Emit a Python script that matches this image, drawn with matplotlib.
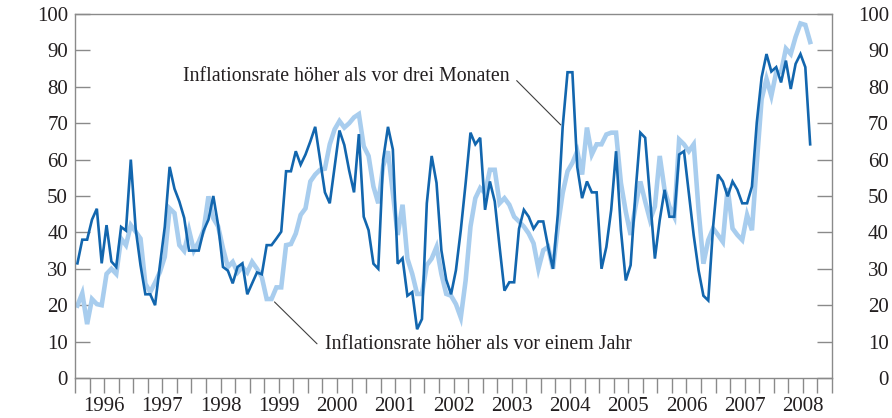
import numpy as np
import pandas as pd
import matplotlib
matplotlib.use('Agg')
import matplotlib.pyplot as plt
from matplotlib.ticker import FixedLocator, NullFormatter

plt.rcParams['font.family'] = ['Liberation Serif', 'DejaVu Serif']

# monthly shares (%), Jan 1996 - Aug 2008
three_month = [
    31.5, 38, 38, 43.5, 46.5, 31.5, 42, 32, 30.5, 41.5, 40.5, 60,        # 1996
    41, 31, 23, 23, 20, 31, 41.5, 58, 52, 48.5, 44, 35,                  # 1997
    35, 35, 40.5, 43.5, 50, 42, 30.5, 29.5, 26, 30.5, 31.5, 23,          # 1998
    26, 29, 28.5, 36.5, 36.5, 38.3, 40.2, 56.8, 56.8, 62.3, 58.6, 61.4,  # 1999
    65, 69, 60, 51, 48, 58, 68, 64, 57, 51, 67, 44.3,                    # 2000
    40.6, 31.4, 30, 60, 69, 62.8, 31.4, 32.9, 22.6, 23.6, 13.4, 16.2,    # 2001
    48, 61, 53.6, 35.1, 27, 23, 29.6, 40.6, 53.5, 67.4, 64.2, 66,        # 2002
    46.2, 54, 48.5, 36, 24, 26.3, 26.3, 41, 46.2, 44.3, 41, 43,          # 2003
    43, 36, 30, 45, 69, 84, 84, 58, 49.4, 54, 51, 51,                    # 2004
    30, 36, 46.2, 62.3, 40.6, 26.8, 31, 50.8, 67.4, 66, 49.4, 32.8,      # 2005
    43.4, 51.7, 44.3, 44.3, 61.4, 62.3, 50.8, 39.2, 29.6, 22.6, 21.3, 41.6,  # 2006
    55.9, 54, 49.9, 54, 51.7, 48, 48, 52.6, 70.2, 82.6, 89, 84.2,        # 2007
    85.4, 81.2, 87.2, 79.4, 86.3, 89, 85.4, 64.2,                        # 2008
]
one_year = [
    19.9, 23.3, 14.8, 21.7, 20.3, 20, 28.6, 30, 28.6, 38.3, 36.5, 42,    # 1996
    40.2, 38.3, 25.9, 23.6, 26.2, 29.1, 33.3, 46.6, 45.3, 36.5, 34.9, 40.6,  # 1997
    35, 37.4, 40.6, 49.9, 43.9, 41.6, 35.6, 30.5, 31.9, 29, 30.5, 29,    # 1998
    31.9, 30, 27.7, 21.7, 21.7, 24.9, 24.9, 36.5, 36.8, 39.7, 44.8, 46.6,  # 1999
    54, 55.9, 57.2, 57.5, 64.2, 68.3, 70.6, 68.8, 70, 71.6, 72.5, 63.7,  # 2000
    61, 52.6, 48, 58.2, 62.3, 50.8, 39.3, 47.6, 32.8, 28.6, 23.1, 23.1,  # 2001
    31, 32.8, 36, 28.6, 23.1, 22.6, 20.3, 16.6, 26.8, 41.6, 49.4, 52.2,  # 2002
    50.8, 57.2, 57.2, 48, 49.4, 47.6, 44.3, 43, 41.6, 39.7, 37, 30,      # 2003
    35.1, 36, 30, 41.6, 50.8, 56.8, 59.1, 62.3, 55.9, 68.8, 61.4, 64.2,  # 2004
    64.2, 66.9, 67.4, 67.4, 53.6, 45.7, 39.3, 47.1, 54, 48.5, 43.4, 47.1,  # 2005
    61, 51.7, 47.1, 44.3, 65.5, 64.2, 62.3, 64.2, 46.2, 31.4, 37.9, 41.1,  # 2006
    39.3, 37.4, 52.2, 41.1, 39.3, 37.9, 44.8, 40.6, 59.1, 76.6, 82.2, 77.5,  # 2007
    84, 84, 90.5, 89, 93.7, 97.4, 97, 92.3,                              # 2008
]
years = list(range(1996, 2009))
y_ticks = [0, 10, 20, 30, 40, 50, 60, 70, 80, 90, 100]

label_3m = 'Inflationsrate höher als vor drei Monaten'
label_1y = 'Inflationsrate höher als vor einem Jahr'

dates = pd.date_range('1996-01-01', periods=len(three_month), freq='MS')
x = dates.year + (dates.month - 0.5) / 12.0

dark = '#1266ae'
light = '#a8cdee'
grey = '#8a8a8a'
txt = '#231f20'
fs = 14.3
tfs = 15

fig = plt.figure(figsize=(8.92, 4.18), dpi=100)
ax = fig.add_axes([75 / 892, 1 - 378 / 418, 757 / 892, 364 / 418])

ax.plot(x, one_year, color=light, lw=3.3, solid_joinstyle='miter', zorder=2)
ax.plot(x, three_month, color=dark, lw=1.9, solid_joinstyle='miter', zorder=3)

ax.set_xlim(1996, 2009)
ax.set_ylim(0, 100)

for s in ax.spines.values():
    s.set_color(grey)
    s.set_linewidth(1.0)

# quarterly ticks below the axis, year labels centred between them
quarters = [y + q / 4 for y in years + [2009] for q in range(4)][:-3]
ax.xaxis.remove_overlapping_locs = False
ax.xaxis.set_major_locator(FixedLocator(quarters))
ax.xaxis.set_major_formatter(NullFormatter())
ax.xaxis.set_minor_locator(FixedLocator([y + 0.5 for y in years]))
ax.set_xticklabels([str(y) for y in years], minor=True)
ax.tick_params(axis='x', which='major', direction='out', length=11,
               width=1.0, color=grey)
ax.tick_params(axis='x', which='minor', length=0, pad=14,
               labelsize=tfs, labelcolor=txt)

ax.set_yticks(y_ticks)
ax.tick_params(axis='y', direction='in', length=11, width=1.0, color=grey,
               pad=5, labelsize=tfs, labelcolor=txt)

ax2 = ax.twinx()
ax2.set_ylim(0, 100)
ax2.set_yticks(y_ticks)
ax2.tick_params(axis='y', direction='in', length=11, width=1.0, color=grey,
                pad=41, labelsize=tfs, labelcolor=txt)
for lbl in ax2.get_yticklabels():
    lbl.set_horizontalalignment('right')
for s in ax2.spines.values():
    s.set_visible(False)

# labels with leader lines
ax.text(1997.855, 81.7, label_3m, fontsize=fs, color=txt, va='baseline')
ax.annotate('', xy=(x[100], three_month[100]), xytext=(2003.585, 81.7),
            arrowprops=dict(arrowstyle='-', color='#404040', lw=0.8,
                            shrinkA=0, shrinkB=2))
ax.text(2000.29, 7.9, label_1y, fontsize=fs, color=txt, va='baseline')
ax.annotate('', xy=(x[40], one_year[40]), xytext=(2000.156, 9.4),
            arrowprops=dict(arrowstyle='-', color='#404040', lw=0.8,
                            shrinkA=0, shrinkB=3))

fig.savefig('out.png', dpi=100)
